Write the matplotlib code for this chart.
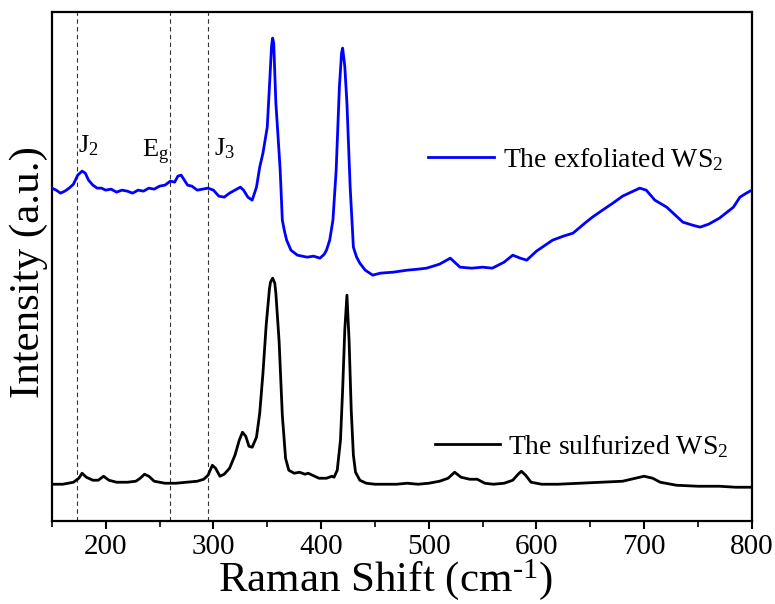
import matplotlib
matplotlib.use("Agg")
import matplotlib.pyplot as plt
from matplotlib.lines import Line2D

plt.rcParams["font.family"] = ["Liberation Serif", "DejaVu Serif"]
plt.rcParams["mathtext.fontset"] = "custom"
plt.rcParams["mathtext.rm"] = "Liberation Serif"
plt.rcParams["mathtext.it"] = "Liberation Serif:italic"
plt.rcParams["axes.unicode_minus"] = False

# Raman shift (cm^-1) and relative intensity of the sulfurized film
shift_sulf = [150, 160, 170, 175, 178, 182, 188, 193, 198, 203, 210, 220, 228, 232,
              236, 240, 245, 255, 265, 275, 285, 291, 295, 299, 302, 306, 310, 315,
              320, 324, 327, 330, 333, 336, 340, 343, 346, 349, 352, 353, 355, 357,
              358, 361, 364, 367, 370, 375, 380, 385, 388, 392, 398, 405, 410, 412,
              415, 418, 420, 422, 424, 426, 428, 430, 432, 436, 442, 450, 460, 470,
              480, 490, 500, 510, 518, 524, 530, 538, 545, 552, 560, 570, 578, 583,
              586, 590, 595, 605, 620, 640, 660, 680, 692, 700, 708, 715, 730, 750,
              770, 785, 800]
int_sulf = [37, 37, 39, 43, 48, 44, 41, 41, 45, 41, 39, 39, 40, 43,
            47, 45, 40, 38, 38, 39, 40, 42, 46, 56, 53, 45, 47, 53,
            66, 81, 89, 85, 75, 74, 84, 108, 148, 196, 232, 239, 243, 238,
            228, 180, 106, 63, 51, 48, 49, 47, 48, 46, 43, 43, 45, 44,
            51, 81, 131, 191, 226, 181, 111, 66, 49, 41, 38, 37, 37, 37,
            38, 37, 38, 40, 43, 49, 44, 42, 42, 38, 37, 38, 41, 47,
            50, 46, 39, 37, 37, 38, 39, 40, 43, 45, 43, 39, 36, 35,
            35, 34, 34]

# exfoliated film (curve is offset upward)
shift_exf = [150, 154, 158, 162, 166, 170, 174, 178, 181, 184, 188, 192, 196, 200,
             205, 210, 215, 220, 225, 230, 235, 240, 245, 250, 255, 260, 264, 267,
             270, 273, 276, 280, 285, 290, 295, 300, 305, 310, 315, 320, 325, 328,
             332, 336, 340, 343, 346, 350, 352, 354, 355, 356, 358, 360, 362, 364,
             366, 368, 372, 378, 387, 393, 399, 403, 405, 408, 411, 414, 417, 419,
             420, 422, 424, 427, 430, 433, 436, 441, 448, 455, 467, 480, 490, 498,
             510, 515, 520, 525, 529, 540, 550, 559, 570, 578, 585, 591, 600, 615,
             625, 634, 645, 652, 660, 671, 680, 690, 696, 702, 710, 721, 736, 745,
             752, 760, 770, 783, 789, 795, 800]
int_exf = [333, 331, 328, 330, 333, 337, 346, 350, 348, 341, 336, 333, 333, 331,
           332, 329, 331, 330, 328, 331, 330, 333, 332, 335, 336, 340, 339, 345,
           346, 341, 336, 335, 331, 332, 333, 331, 325, 324, 328, 331, 334, 331,
           324, 321, 334, 354, 368, 394, 434, 475, 483, 478, 418, 385, 351, 301,
           290, 281, 271, 266, 264, 265, 263, 267, 271, 281, 301, 351, 434, 468,
           473, 455, 418, 334, 274, 264, 258, 251, 246, 248, 249, 251, 252, 253,
           257, 260, 263, 258, 254, 253, 254, 253, 259, 266, 263, 261, 270, 281,
           285, 288, 298, 304, 310, 318, 325, 330, 333, 331, 321, 314, 299, 296,
           294, 297, 303, 314, 324, 328, 331]

mode_pos = [173, 260, 295]
mode_labels = ["J$_2$", "E$_\\mathrm{g}$", "J$_3$"]
mode_label_x = [174, 233.5, 301]
mode_label_y = [369, 364, 366]

fig = plt.figure(figsize=(7.75, 6.04), dpi=100)
ax = fig.add_axes([0.067, 0.137, 0.903, 0.843])

for x in mode_pos:
    ax.axvline(x, color="#333333", linestyle=(0, (4, 3)), linewidth=0.8, zorder=1)

ax.plot(shift_exf, int_exf, color="#0000ff", linewidth=2.0, zorder=3)
ax.plot(shift_sulf, int_sulf, color="black", linewidth=2.0, zorder=3)

for lab, lx, ly in zip(mode_labels, mode_label_x, mode_label_y):
    ax.text(lx, ly, lab, fontsize=19, ha="left", va="baseline", zorder=4)

leg1 = ax.legend([Line2D([], [], color="#0000ff", linewidth=2.0)],
                 ["The exfoliated WS$_2$"], loc="center left",
                 bbox_to_anchor=(0.537, 0.711), frameon=False, fontsize=20,
                 borderpad=0, borderaxespad=0, handlelength=2.4, handletextpad=0.3)
ax.add_artist(leg1)
ax.legend([Line2D([], [], color="black", linewidth=2.0)],
          ["The sulfurized WS$_2$"], loc="center left",
          bbox_to_anchor=(0.547, 0.147), frameon=False, fontsize=20,
          borderpad=0, borderaxespad=0, handlelength=2.35, handletextpad=0.3)

ax.set_xlim(150, 800)
ax.set_ylim(0, 509)
ax.set_xticks([200, 300, 400, 500, 600, 700, 800])
ax.set_xticks([150, 250, 350, 450, 550, 650, 750], minor=True)
ax.set_yticks([])
ax.tick_params(axis="x", which="major", direction="out", length=6, width=1.5,
               labelsize=21, pad=3)
ax.tick_params(axis="x", which="minor", direction="out", length=4, width=1.2)
for sp in ax.spines.values():
    sp.set_linewidth(1.6)

ax.set_xlabel("Raman Shift (cm$^{\\text{-}1}$)", fontsize=31)
ax.xaxis.set_label_coords(0.476, -0.071)
ax.set_ylabel("Intensity (a.u.)", fontsize=31)
ax.yaxis.set_label_coords(-0.006, 0.489)

fig.savefig("out.png", dpi=100)
